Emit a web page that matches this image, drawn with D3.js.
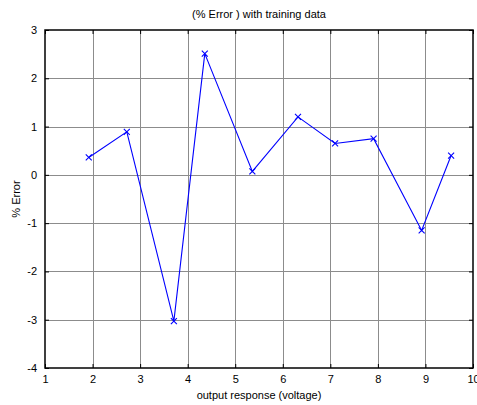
<!DOCTYPE html>
<html>
<head>
<meta charset="utf-8">
<script src="https://cdn.jsdelivr.net/npm/d3@7"></script>
<style>
  html, body { margin: 0; padding: 0; background: #fff; }
  svg { display: block; font-family: "Liberation Sans", Arial, sans-serif; }
</style>
</head>
<body>
<svg id="chart" width="477" height="405"></svg>
<script>
// Measured output response (V) and the corresponding percentage error
const voltage = [1.92, 2.72, 3.71, 4.36, 5.36, 6.32, 7.10, 7.91, 8.92, 9.54];
const pctError = [0.36, 0.89, -3.03, 2.51, 0.07, 1.20, 0.65, 0.75, -1.15, 0.40];
const xTicks = [1, 2, 3, 4, 5, 6, 7, 8, 9, 10];
const yTicks = [-4, -3, -2, -1, 0, 1, 2, 3];

const svg = d3.select("#chart");
const margin = { left: 45, right: 4, top: 30, bottom: 37 };
const W = 477, H = 405;

const x = d3.scaleLinear().domain([1, 10]).range([margin.left, W - margin.right]);
const y = d3.scaleLinear().domain([-4, 3]).range([H - margin.bottom, margin.top]);

// plain hyphen-minus labels
const plain = d => String(d);

// grid lines
const grid = svg.append("g").attr("stroke", "#8c8c8c").attr("stroke-width", 1);
grid.selectAll("line.vx").data(xTicks.slice(1, -1)).join("line")
  .attr("x1", d => Math.round(x(d)) + 0.5).attr("x2", d => Math.round(x(d)) + 0.5)
  .attr("y1", y(3)).attr("y2", y(-4));
grid.selectAll("line.hy").data(yTicks.slice(1, -1)).join("line")
  .attr("y1", d => Math.round(y(d)) + 0.5).attr("y2", d => Math.round(y(d)) + 0.5)
  .attr("x1", x(1)).attr("x2", x(10));

// axes with inward ticks on all four sides
const tickLen = 4;
function styleAxis(g) {
  g.selectAll("text").attr("font-size", 11).attr("fill", "#000");
  g.selectAll("line").attr("stroke", "#000");
  g.select(".domain").remove();
}
svg.append("g").attr("transform", `translate(0,${y(-4)})`)
  .call(d3.axisBottom(x).tickValues(xTicks).tickFormat(plain).tickSizeInner(-tickLen).tickSizeOuter(0).tickPadding(7))
  .call(styleAxis);
svg.append("g").attr("transform", `translate(0,${y(3)})`)
  .call(d3.axisTop(x).tickValues(xTicks).tickFormat("").tickSizeInner(-tickLen).tickSizeOuter(0))
  .call(styleAxis);
svg.append("g").attr("transform", `translate(${x(1)},0)`)
  .call(d3.axisLeft(y).tickValues(yTicks).tickFormat(plain).tickSizeInner(-tickLen).tickSizeOuter(0).tickPadding(8))
  .call(styleAxis);
svg.append("g").attr("transform", `translate(${x(10)},0)`)
  .call(d3.axisRight(y).tickValues(yTicks).tickFormat("").tickSizeInner(-tickLen).tickSizeOuter(0))
  .call(styleAxis);

// axes box
svg.append("rect")
  .attr("x", x(1)).attr("y", y(3))
  .attr("width", x(10) - x(1)).attr("height", y(-4) - y(3))
  .attr("fill", "none").attr("stroke", "#000").attr("stroke-width", 1.5);

// data line
const pts = voltage.map((v, i) => [v, pctError[i]]);
svg.append("path")
  .datum(pts)
  .attr("fill", "none").attr("stroke", "#0000ff").attr("stroke-width", 1.1)
  .attr("d", d3.line().x(d => x(d[0])).y(d => y(d[1])));

// x markers
const m = 3;
svg.append("g").selectAll("path").data(pts).join("path")
  .attr("stroke", "#0000ff").attr("stroke-width", 1.1).attr("fill", "none")
  .attr("d", d => {
    const cx = x(d[0]), cy = y(d[1]);
    return `M${cx - m},${cy - m}L${cx + m},${cy + m}M${cx - m},${cy + m}L${cx + m},${cy - m}`;
  });

// title and axis labels
svg.append("text").attr("x", (x(1) + x(10)) / 2).attr("y", 18)
  .attr("text-anchor", "middle").attr("font-size", 11).text("(% Error ) with training data");
svg.append("text").attr("x", (x(1) + x(10)) / 2).attr("y", 399)
  .attr("text-anchor", "middle").attr("font-size", 11).text("output response (voltage)");
svg.append("text")
  .attr("transform", `translate(20,${(y(3) + y(-4)) / 2}) rotate(-90)`)
  .attr("text-anchor", "middle").attr("font-size", 11).text("% Error");
</script>
</body>
</html>
